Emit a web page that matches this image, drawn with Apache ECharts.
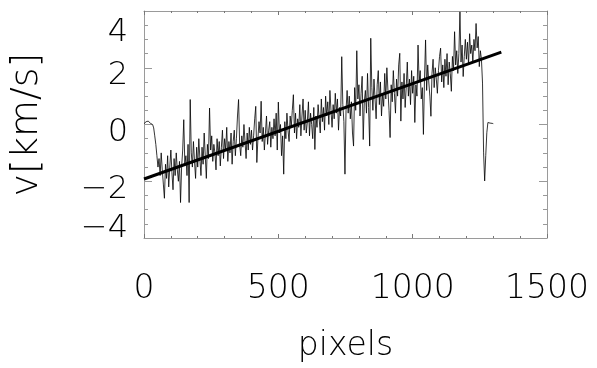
<!DOCTYPE html>
<html>
<head>
<meta charset="utf-8">
<script src="https://cdn.jsdelivr.net/npm/echarts@6/dist/echarts.min.js"></script>
<style>html,body{margin:0;padding:0;background:#fff}#c{width:597px;height:368px}</style>
</head>
<body>
<div id="c"></div>
<script>
// sample spacing along x (pixels)
var sampleStep = 4;
// measured velocity, one value per sample, from x = 0 to x = 1300
var velocity = [
  0.03, 0.07, 0.1, 0.06, 0.12, 0.08, 0.04, 0.06, 0.0, -0.12,
  -0.4, -0.7, -1.1, -1.5, -1.2, -1.8, -1.0, -1.6, -2.1, -2.6,
  -1.4, -1.9, -1.1, -2.2, -1.5, -0.9, -1.7, -2.3, -1.2, -1.8,
  -1.0, -1.6, -2.0, -1.3, -2.75, -1.5, -0.9, 0.17, -1.4, -1.1,
  -1.8, -0.7, -2.75, 0.88, -1.0, -1.5, -0.6, -1.3, -1.9, -0.8,
  -1.5, -0.5, -1.2, -1.8, -0.8, -1.4, -0.3, -1.1, -1.9, -0.7,
  -1.2, 0.58, -0.9, -0.4, -1.3, -0.7, -1.0, -1.6, -0.5, -1.1,
  -0.6, -1.46, -0.8, -0.2, -1.2, -0.5, -0.9, -0.1, -1.3, -0.6,
  -1.0, -0.3, -1.4, -0.6, -0.2, -1.1, -0.5, 0.3, 0.88, -0.7,
  -1.1, -0.4, -0.8, 0.0, -0.6, -1.2, -0.3, -0.9, -0.1, -0.7,
  -0.2, -0.9, -0.4, 0.2, 0.64, -1.34, -0.5, 0.1, -0.3, 0.82,
  -0.6, -0.1, -0.9, -0.3, 0.3, -0.7, -0.2, 0.1, -0.8, -0.1,
  -0.5, 0.2, -0.4, 0.4, -0.9, 0.79, -0.3, 0.0, -1.1, -0.4,
  -1.75, 0.1, -0.5, 0.4, -0.2, -0.6, 0.3, -0.1, 0.5, 1.05,
  -0.3, 0.4, -0.5, 0.2, -0.1, 0.7, -0.4, 0.3, 0.9, -0.2,
  0.5, -0.3, 0.1, 0.8, -0.4, 0.4, 0.0, -0.5, 0.6, -0.88,
  0.3, -0.1, 0.7, 0.2, -0.3, 0.9, 0.1, 0.6, -0.2, 1.0,
  0.3, 0.8, 0.0, 1.2, 0.5, -0.1, 0.7, 0.2, 1.1, 0.4,
  0.9, -0.2, 0.6, 0.3, 2.39, 0.7, 0.1, -1.75, 0.5, 1.2,
  0.4, 1.0, 0.2, 0.8, -0.3, -0.76, 1.3, 0.5, 2.6, 0.9,
  1.4, 0.3, 1.1, 1.7, -0.53, 0.8, 1.2, 0.4, 1.8, 0.6,
  -0.76, 3.04, 1.3, 0.5, 1.6, 0.9, 0.2, 1.4, 1.9, 0.7,
  1.5, 0.3, 1.1, 0.64, 1.8, 0.9, 2.0, 1.2, 0.5, -0.46,
  1.4, 0.8, 1.9, 1.1, 0.4, 1.6, 1.0, 2.1, 2.51, 0.12,
  1.5, 0.9, 1.8, 0.6, 1.3, 2.2, 1.0, 1.6, 0.7, 1.9,
  1.1, 1.7, 0.07, 1.4, 1.0, 2.8, 1.5, 1.9, 0.9, 1.3,
  -0.35, 1.6, 2.98, 1.2, 2.1, 1.5, 1.0, 0.29, 1.8, 2.3,
  1.3, 2.0, 1.6, 1.1, 1.9, 2.4, 2.69, 1.5, 2.1, 1.3,
  2.3, 1.7, 2.5, 1.4, 2.2, 1.8, 1.17, 2.4, 1.9, 3.27,
  2.1, 2.6, 1.8, 2.5, 3.97, 2.2, 2.8, 1.69, 2.4, 3.0,
  2.3, 2.9, 2.1, 3.2, 2.5, 2.8, 2.2, 3.0, 2.6, 3.56,
  2.7, 3.1, 2.04, 2.6, 2.3, 1.46, -1.0, -1.99, -1.1, -0.29,
  0.07, 0.02, 0.05, 0.0, 0.04, 0.03
];
// linear fit end points
var fitX = [0, 1330];
var fitV = [-1.92, 2.55];
// axis ticks
var xTicks = [0, 500, 1000, 1500];
var yTicks = [-4, -2, 0, 2, 4];

var noiseData = velocity.map(function (v, i) { return [i * sampleStep, v]; });
var fitData = fitX.map(function (x, i) { return [x, fitV[i]]; });

var FONT = 'DejaVu Sans';
var frame = '#9a9a9a';

function yLabel(v) {
  var s = v < 0 ? '\u2212' + Math.abs(v) : String(v);
  if (v === yTicks[yTicks.length - 1]) return '{t|' + s + '}';
  if (v === yTicks[0]) return '{b|' + s + '}';
  return '{m|' + s + '}';
}
var labelRich = {
  t: { fontFamily: FONT, fontWeight: 200, fontSize: 32, color: '#000', padding: [44, 0, 0, 0] },
  m: { fontFamily: FONT, fontWeight: 200, fontSize: 32, color: '#000', padding: [16, 0, 0, 0] },
  b: { fontFamily: FONT, fontWeight: 200, fontSize: 32, color: '#000', padding: [0, 0, 18, 0] }
};

var chart = echarts.init(document.getElementById('c'), null, { renderer: 'canvas' });
chart.setOption({
  animation: false,
  backgroundColor: '#fff',
  grid: { left: 144, right: 50, top: 11, bottom: 129 },
  xAxis: [{
    type: 'value', min: xTicks[0], max: xTicks[xTicks.length - 1], interval: 500,
    position: 'bottom',
    name: 'pixels', nameLocation: 'middle', nameGap: 92,
    nameTextStyle: { fontFamily: FONT, fontWeight: 200, fontSize: 33, color: '#000' },
    axisLine: { show: true, onZero: false, lineStyle: { color: frame, width: 1 } },
    axisTick: { show: true, inside: true, length: 4, lineStyle: { color: '#777' } },
    minorTick: { show: true, splitNumber: 5, length: 2, lineStyle: { color: '#777' } },
    splitLine: { show: false },
    axisLabel: { margin: 35, fontFamily: FONT, fontWeight: 200, fontSize: 33, color: '#000',
      formatter: function (v) { return String(v); } }
  }, {
    type: 'value', min: 0, max: 1500, interval: 500, position: 'top',
    axisLine: { show: true, onZero: false, lineStyle: { color: frame, width: 1 } },
    axisTick: { show: true, inside: true, length: 4, lineStyle: { color: '#777' } },
    minorTick: { show: true, splitNumber: 5, length: 2, lineStyle: { color: '#777' } },
    splitLine: { show: false }, axisLabel: { show: false }
  }],
  yAxis: [{
    type: 'value', min: yTicks[0], max: yTicks[yTicks.length - 1], interval: 2,
    position: 'left',
    name: 'v[km/s]', nameLocation: 'middle', nameGap: 98, nameRotate: 90,
    nameTextStyle: { fontFamily: FONT, fontWeight: 200, fontSize: 38, color: '#000' },
    axisLine: { show: true, onZero: false, lineStyle: { color: frame, width: 1 } },
    axisTick: { show: true, inside: true, length: 8, lineStyle: { color: '#999' } },
    minorTick: { show: true, splitNumber: 4, length: 4, lineStyle: { color: '#999' } },
    splitLine: { show: false },
    axisLabel: { margin: 16, formatter: yLabel, rich: labelRich }
  }, {
    type: 'value', min: -4, max: 4, interval: 2, position: 'right',
    axisLine: { show: true, onZero: false, lineStyle: { color: frame, width: 1 } },
    axisTick: { show: true, inside: true, length: 8, lineStyle: { color: '#999' } },
    minorTick: { show: true, splitNumber: 4, length: 4, lineStyle: { color: '#999' } },
    splitLine: { show: false }, axisLabel: { show: false }
  }],
  series: [{
    type: 'line', data: noiseData, xAxisIndex: 0, yAxisIndex: 0,
    showSymbol: false, symbol: 'none',
    lineStyle: { color: '#000', width: 0.8 }, z: 2
  }, {
    type: 'line', data: fitData, xAxisIndex: 0, yAxisIndex: 0,
    showSymbol: false, symbol: 'none',
    lineStyle: { color: '#000', width: 3 }, z: 3
  }]
});
</script>
</body>
</html>
